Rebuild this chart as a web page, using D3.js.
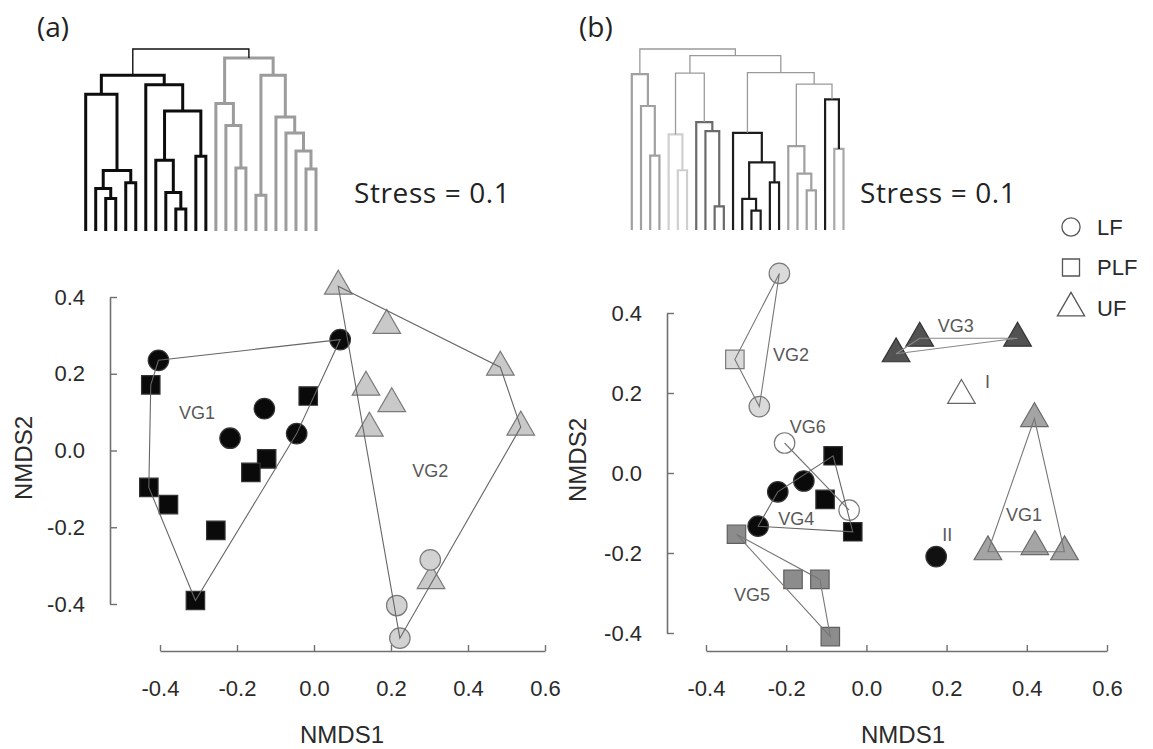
<!DOCTYPE html>
<html><head><meta charset="utf-8">
<script src="https://cdn.jsdelivr.net/npm/d3@7"></script>
<style>body{margin:0;background:#fff}svg{display:block}</style>
</head><body><svg id="c" width="1153" height="749"></svg>
<script>
// ---------------- DATA ----------------
const xTickValues = [-0.4, -0.2, 0.0, 0.2, 0.4, 0.6];
const yTickValues = [-0.4, -0.2, 0.0, 0.2, 0.4];
const panelLabels = ["(a)", "(b)"];
const stressText = "Stress = 0.1";
const axisTitles = ["NMDS1", "NMDS2"];
const legendLabels = ["LF", "PLF", "UF"];

// Panel (a) NMDS scores
const aVG1Circles = [[-0.404,0.235],[0.068,0.289],[-0.129,0.109],[-0.218,0.032],[-0.045,0.044]];
const aVG1Squares = [[-0.424,0.171],[-0.015,0.142],[-0.123,-0.022],[-0.164,-0.057],[-0.429,-0.096],[-0.378,-0.141],[-0.255,-0.208],[-0.308,-0.391]];
const aVG2Triangles = [[0.063,0.428],[0.189,0.326],[0.484,0.217],[0.537,0.061],[0.135,0.165],[0.202,0.122],[0.144,0.058],[0.304,-0.339]];
const aVG2Circles = [[0.302,-0.285],[0.215,-0.404],[0.223,-0.489]];
const aGroupLabels = [["VG1",-0.304,0.098],["VG2",0.302,-0.053]];

// Panel (b) NMDS scores
const bVG2Circles = [[-0.217,0.499],[-0.267,0.166]];
const bVG2Squares = [[-0.328,0.284]];
const bVG3Triangles = [[0.074,0.298],[0.133,0.337],[0.377,0.337]];
const bITriangles = [[0.237,0.194]];
const bVG1Triangles = [[0.419,0.136],[0.303,-0.197],[0.420,-0.184],[0.494,-0.197]];
const bIICircles = [[0.174,-0.209]];
const bVG6Circles = [[-0.204,0.075],[-0.043,-0.093]];
const bVG4Circles = [[-0.156,-0.020],[-0.221,-0.047],[-0.270,-0.133]];
const bVG4Squares = [[-0.083,0.043],[-0.103,-0.066],[-0.034,-0.147]];
const bVG5Squares = [[-0.324,-0.153],[-0.183,-0.266],[-0.116,-0.266],[-0.090,-0.409]];
const bGroupLabels = [["VG2",-0.233,0.295],["VG6",-0.191,0.115],["VG4",-0.220,-0.115],["VG5",-0.330,-0.305],
                      ["VG3",0.178,0.368],["I",0.296,0.228],["VG1",0.348,-0.103],["II",0.189,-0.153]];

// Dendrograms: [height, left, right, cluster]; null = leaf
const dendroA = [1.0,
  [0.856,
    [0.751, null, [0.333, [0.234, null, [0.178, null, null]], [0.265, null, null]]],
    [0.804, null, [0.660, [0.389, null, [0.211, null, [0.121, null, null]]], [0.411, null, null]]],
    "black"],
  [0.950,
    [0.701, null, [0.579, null, [0.346, null, null]]],
    [0.856, [0.196, null, null], [0.626, null, [0.538, null, [0.439, null, [0.340, null, null]]]]],
    "gray"],
  "root"];
const dendroB = [1.0,
  [0.861, null, [0.685, null, [0.411, null, null]], "c1"],
  [0.963,
    [0.867,
      [0.528, null, [0.330, null, null], "c2"],
      [0.596, null, [0.546, null, [0.130, null, null]], "c3"]],
    [0.870,
      [0.537, null, [0.374, [0.172, null, [0.107, null, null]], [0.263, null, null]], "c4"],
      [0.806,
        [0.463, null, [0.311, null, [0.219, null, null]], "c1"],
        [0.722, null, [0.448, null, null, "c5"], "c4"]]]],
  "root"];

// ---------------- STYLE / LAYOUT ----------------
const FONT = "'Liberation Sans', Arial, sans-serif";
const FONT2 = "'Open Sans', 'Noto Sans', sans-serif";
const svg = d3.select("#c");

const dendroStyleA = {root:{s:"#111",w:1.4}, black:{s:"#0d0d0d",w:3}, gray:{s:"#9c9c9c",w:3}};
const dendroStyleB = {root:{s:"#9a9a9a",w:1.3}, c1:{s:"#a0a0a0",w:2.2}, c2:{s:"#cfcfcf",w:2.2},
                      c3:{s:"#6a6a6a",w:2.2}, c4:{s:"#1c1c1c",w:2.2}, c5:{s:"#a8a8a8",w:2.2}};

function drawDendro(tree, xr, yr, styles) {
  const lx = d3.scaleLinear().domain([0, 23]).range(xr);
  const hy = d3.scaleLinear().domain([0, 1]).range(yr);
  let idx = 0;
  const nodes = [];
  function build(n, pg) {
    if (n === null) return {x: lx(idx++), h: 0};
    const g = n[3] || pg;
    const a = build(n[1], g), b = build(n[2], g);
    const node = {x: (a.x + b.x) / 2, h: n[0], g, a, b};
    nodes.push(node);
    return node;
  }
  build(tree, "root");
  const g = svg.append("g");
  nodes.forEach(nd => {
    const st = styles[nd.g];
    g.append("path")
      .attr("d", `M${nd.a.x},${hy(nd.a.h)}V${hy(nd.h)}H${nd.b.x}V${hy(nd.b.h)}`)
      .attr("fill", "none").attr("stroke", st.s).attr("stroke-width", st.w);
  });
}
drawDendro(dendroA, [85.7, 316], [231, 49], dendroStyleA);
drawDendro(dendroB, [631.8, 843.5], [230, 49], dendroStyleB);

// panel labels and stress
svg.append("text").attr("x", 37).attr("y", 37).text(panelLabels[0])
  .attr("font-family", FONT2).attr("font-size", 28).attr("fill", "#222");
svg.append("text").attr("x", 579).attr("y", 37).text(panelLabels[1])
  .attr("font-family", FONT2).attr("font-size", 28).attr("fill", "#222");
svg.append("text").attr("x", 354).attr("y", 203).text(stressText)
  .attr("font-family", FONT2).attr("font-size", 28).attr("letter-spacing", 0.6).attr("fill", "#222");
svg.append("text").attr("x", 860).attr("y", 203).text(stressText)
  .attr("font-family", FONT2).attr("font-size", 28).attr("letter-spacing", 0.6).attr("fill", "#222");

// scales
const xA = d3.scaleLinear().domain([-0.4, 0.6]).range([160, 545]);
const yA = d3.scaleLinear().domain([-0.4, 0.4]).range([604, 297]);
const xB = d3.scaleLinear().domain([-0.4, 0.6]).range([706, 1107]);
const yB = d3.scaleLinear().domain([-0.4, 0.4]).range([633, 313]);

const fmt = d => d.toFixed(1);
function styleAxis(g) {
  g.select(".domain").attr("stroke", "#707070").attr("stroke-width", 1.6);
  g.selectAll(".tick line").attr("stroke", "#707070").attr("stroke-width", 1.4);
  g.selectAll(".tick text").attr("font-family", FONT).attr("font-size", 22).attr("fill", "#2a2a2a");
}
function drawAxes(x, y, yAxisX, xAxisY, titleX, titleY) {
  svg.append("g").attr("transform", `translate(${yAxisX},0)`)
    .call(d3.axisLeft(y).tickValues(yTickValues).tickFormat(fmt).tickSize(-7).tickSizeOuter(0).tickPadding(25))
    .call(styleAxis);
  svg.append("g").attr("transform", `translate(0,${xAxisY})`)
    .call(d3.axisBottom(x).tickValues(xTickValues).tickFormat(fmt).tickSize(-6).tickSizeOuter(0).tickPadding(29))
    .call(styleAxis);
  svg.append("text").attr("x", titleX).attr("y", 743).attr("text-anchor", "middle")
    .text(axisTitles[0]).attr("font-family", FONT).attr("font-size", 24).attr("fill", "#2a2a2a");
  svg.append("text").attr("transform", `translate(${titleY[0]},${titleY[1]}) rotate(-90)`)
    .attr("text-anchor", "middle").text(axisTitles[1])
    .attr("font-family", FONT).attr("font-size", 24).attr("fill", "#2a2a2a");
}
drawAxes(xA, yA, 110, 651, 342, [31.5, 458]);
drawAxes(xB, yB, 667, 651, 903, [586, 460]);

const SYM = {circle: d3.symbolCircle, square: d3.symbolSquare, triangle: d3.symbolTriangle};
const SIZE = {circle: 330, square: 340, triangle: 330};
function markers(pts, x, y, shape, fill, stroke) {
  svg.append("g").selectAll("path").data(pts).join("path")
    .attr("d", d3.symbol().type(SYM[shape]).size(SIZE[shape]))
    .attr("transform", d => `translate(${x(d[0])},${y(d[1])})`)
    .attr("fill", fill).attr("stroke", stroke).attr("stroke-width", 1.2);
}
function hull(pts, x, y, color) {
  const p = pts.map(d => [x(d[0]), y(d[1])]);
  const h = p.length > 2 ? d3.polygonHull(p) : p;
  svg.append("path").attr("d", d3.line()(h) + (p.length > 2 ? "Z" : ""))
    .attr("fill", "none").attr("stroke", color).attr("stroke-width", 1.1);
}
function groupLabels(list, x, y) {
  list.forEach(l => svg.append("text").attr("x", x(l[1])).attr("y", y(l[2])).attr("dy", "0.35em")
    .text(l[0]).attr("font-family", FONT).attr("font-size", 18).attr("fill", "#585858"));
}

// Panel (a)
markers(aVG1Circles, xA, yA, "circle", "#0a0a0a", "#333");
markers(aVG1Squares, xA, yA, "square", "#0a0a0a", "#333");
markers(aVG2Triangles, xA, yA, "triangle", "#c9c9c9", "#7a7a7a");
markers(aVG2Circles, xA, yA, "circle", "#d2d2d2", "#7a7a7a");
hull(aVG1Circles.concat(aVG1Squares), xA, yA, "#666");
hull(aVG2Triangles.concat(aVG2Circles), xA, yA, "#666");
aGroupLabels.forEach(l => svg.append("text").attr("x", xA(l[1])).attr("y", yA(l[2])).attr("dy", "0.35em")
  .attr("text-anchor", "middle").text(l[0]).attr("font-family", FONT).attr("font-size", 18).attr("fill", "#585858"));

// Panel (b)
markers(bVG2Circles, xB, yB, "circle", "#dadada", "#7a7a7a");
markers(bVG2Squares, xB, yB, "square", "#dadada", "#7a7a7a");
markers(bVG3Triangles, xB, yB, "triangle", "#525252", "#333");
markers(bITriangles, xB, yB, "triangle", "#ffffff", "#666");
markers(bVG1Triangles, xB, yB, "triangle", "#a4a4a4", "#6a6a6a");
markers(bIICircles, xB, yB, "circle", "#111", "#333");
markers(bVG6Circles, xB, yB, "circle", "#ffffff", "#7a7a7a");
markers(bVG4Circles, xB, yB, "circle", "#0a0a0a", "#333");
markers(bVG4Squares, xB, yB, "square", "#0a0a0a", "#333");
markers(bVG5Squares, xB, yB, "square", "#8c8c8c", "#5f5f5f");
hull(bVG2Circles.concat(bVG2Squares), xB, yB, "#777");
hull(bVG3Triangles, xB, yB, "#888");
hull(bVG1Triangles, xB, yB, "#777");
hull(bVG6Circles, xB, yB, "#777");
hull(bVG4Circles.concat(bVG4Squares), xB, yB, "#666");
hull(bVG5Squares, xB, yB, "#777");
groupLabels(bGroupLabels, xB, yB);

// Legend
const legendShapes = ["circle", "square", "triangle"];
const legSize = {circle: 260, square: 290, triangle: 320};
const legY = d3.scalePoint().domain(legendLabels).range([227, 308]);
legendLabels.forEach((lab, i) => {
  const s = legendShapes[i];
  svg.append("path").attr("d", d3.symbol().type(SYM[s]).size(legSize[s]))
    .attr("transform", `translate(1071,${legY(lab)})`)
    .attr("fill", "#fff").attr("stroke", "#555").attr("stroke-width", 1.3);
  svg.append("text").attr("x", 1097).attr("y", legY(lab)).attr("dy", "0.36em").text(lab)
    .attr("font-family", FONT).attr("font-size", 22).attr("fill", "#2a2a2a");
});
</script></body></html>
